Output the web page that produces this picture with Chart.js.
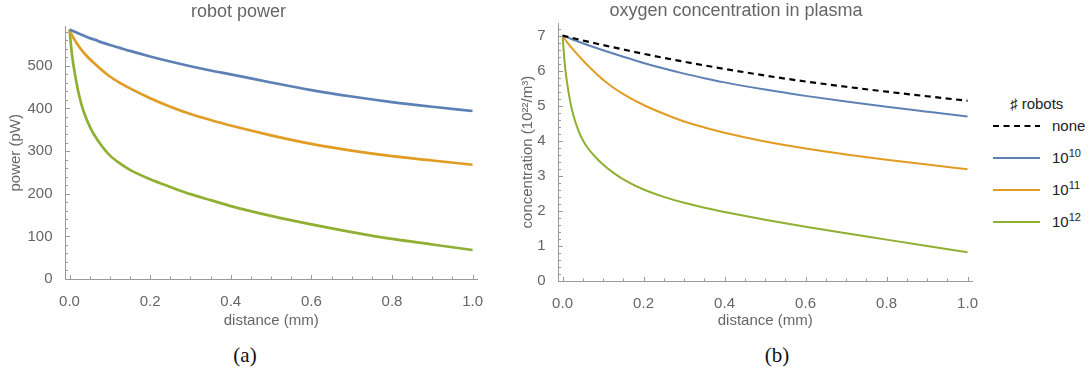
<!DOCTYPE html>
<html lang="en">
  <head>
    <meta charset="UTF-8" />
    <title>Robot power and oxygen concentration</title>
    <script src="https://cdn.jsdelivr.net/npm/chart.js"></script>
    <style>
      body {
        margin: 0;
        width: 1091px;
        height: 375px;
        background: #fff;
        position: relative;
        overflow: hidden;
        font-family: "Liberation Sans", Arial, sans-serif;
      }
      #powerChart { position: absolute; left: 0; top: 0; }
      #oxygenChart { position: absolute; left: 500px; top: 0; }
      .caption {
        position: absolute;
        top: 342px;
        line-height: 26px;
        font-family: "Liberation Serif", serif;
        font-size: 21px;
        color: #111;
        transform: translateX(-50%);
      }
      #legend { position: absolute; left: 0; top: 0; font-size: 15px; color: #222; }
      .row { position: absolute; height: 18px; line-height: 18px; white-space: nowrap; }
      .row sup { font-size: 11px; vertical-align: 6px; line-height: 0; }
      .row svg { position: absolute; left: 0; top: 0; }
    </style>
  </head>
  <body>
    <canvas id="powerChart" width="500" height="335"></canvas>
    <canvas id="oxygenChart" width="485" height="335"></canvas>

    <div id="legend">
      <div class="row" style="left:1010px; top:95px;">&#9839; robots</div>
      <div class="row" style="left:993px; top:117px; width:98px;">
        <svg width="50" height="18"><line x1="0" y1="9" x2="47" y2="9" stroke="#000" stroke-width="2" stroke-dasharray="6,4.5" /></svg>
        <span style="position:absolute; left:59px;">none</span>
      </div>
      <div class="row" style="left:993px; top:149px; width:98px;">
        <svg width="50" height="18"><line x1="0" y1="9" x2="47" y2="9" stroke="#5e81b5" stroke-width="2" /></svg>
        <span style="position:absolute; left:59px;">10<sup>10</sup></span>
      </div>
      <div class="row" style="left:993px; top:181px; width:98px;">
        <svg width="50" height="18"><line x1="0" y1="9" x2="47" y2="9" stroke="#e19c24" stroke-width="2" /></svg>
        <span style="position:absolute; left:59px;">10<sup>11</sup></span>
      </div>
      <div class="row" style="left:993px; top:213px; width:98px;">
        <svg width="50" height="18"><line x1="0" y1="9" x2="47" y2="9" stroke="#8fb032" stroke-width="2" /></svg>
        <span style="position:absolute; left:59px;">10<sup>12</sup></span>
      </div>
    </div>

    <div class="caption" style="left:245px;">(a)</div>
    <div class="caption" style="left:777px;">(b)</div>

    <script>
      // distance along the vessel (mm), shared by every curve
      var distance = [0, 0.005, 0.01, 0.02, 0.03, 0.04, 0.05, 0.06, 0.08, 0.1, 0.125, 0.15,
        0.2, 0.25, 0.3, 0.35, 0.4, 0.5, 0.6, 0.7, 0.8, 0.9, 1.0];

      // (a) robot power in pW
      var power1e10 = [585, 583, 581, 577, 573, 569, 565, 562, 555, 549, 542, 535,
        522, 510, 499, 489, 480, 461, 443, 428, 415, 404, 394];
      var power1e11 = [585, 574, 565, 550, 537, 526, 516, 507, 490, 475, 460, 447,
        424, 404, 387, 373, 360, 337, 317, 301, 288, 278, 268];
      var power1e12 = [585, 535, 500, 447, 408, 380, 358, 340, 312, 290, 271, 256,
        234, 216, 199, 185, 171, 148, 128, 110, 94, 81, 68];

      // (b) oxygen concentration in 10^22 / m^3
      var oxygenNone = [7.0, 6.986, 6.972, 6.944, 6.916, 6.888, 6.86, 6.833, 6.78, 6.728, 6.665, 6.603,
        6.48, 6.365, 6.255, 6.15, 6.05, 5.86, 5.69, 5.54, 5.4, 5.27, 5.14];
      var oxygen1e10 = [7.0, 6.977, 6.955, 6.91, 6.866, 6.823, 6.781, 6.74, 6.66, 6.582, 6.487, 6.395,
        6.22, 6.06, 5.915, 5.785, 5.665, 5.46, 5.28, 5.12, 4.97, 4.83, 4.69];
      var oxygen1e11 = [7.0, 6.91, 6.83, 6.685, 6.55, 6.42, 6.295, 6.175, 5.95, 5.74, 5.52, 5.33,
        5.02, 4.77, 4.55, 4.38, 4.23, 3.98, 3.78, 3.61, 3.46, 3.32, 3.19];
      var oxygen1e12 = [7.0, 6.25, 5.75, 5.05, 4.6, 4.27, 4.02, 3.83, 3.55, 3.32, 3.09, 2.9,
        2.61, 2.4, 2.23, 2.09, 1.97, 1.75, 1.55, 1.36, 1.18, 1.0, 0.82];

      // labelled ticks
      var distanceTicks = [0, 0.2, 0.4, 0.6, 0.8, 1.0];
      var powerTicks = [0, 100, 200, 300, 400, 500];
      var oxygenTicks = [0, 1, 2, 3, 4, 5, 6, 7];

      var blue = "#5e81b5", orange = "#e19c24", green = "#8fb032";
      var axisGrey = "#9a9a9a", labelGrey = "#666";

      Chart.defaults.font.family = '"Liberation Sans", Arial, sans-serif';
      Chart.defaults.font.size = 15;
      Chart.defaults.color = labelGrey;

      function points(values) {
        return distance.map(function (d, i) {
          return { x: d, y: values[i] };
        });
      }

      function curve(label, values, color, width, dash) {
        return {
          label: label,
          data: points(values),
          borderColor: color,
          backgroundColor: color,
          borderWidth: width,
          borderDash: dash || [],
          pointRadius: 0,
          cubicInterpolationMode: "monotone",
          fill: false,
        };
      }

      // Mathematica style ticks that point into the plot
      var insideTicks = {
        id: "insideTicks",
        afterDatasetsDraw: function (chart, args, opts) {
          var ctx = chart.ctx, area = chart.chartArea;
          var xs = chart.scales.x, ys = chart.scales.y;
          ctx.save();
          ctx.strokeStyle = axisGrey;
          ctx.lineWidth = 1;
          ctx.beginPath();
          var nx = Math.round(1 / opts.xStep);
          var xEvery = Math.round(opts.xMajor / opts.xStep);
          for (var i = 0; i <= nx; i++) {
            var px = Math.round(xs.getPixelForValue(i * opts.xStep)) + 0.5;
            var len = i % xEvery === 0 ? 4 : 2.5;
            ctx.moveTo(px, area.bottom);
            ctx.lineTo(px, area.bottom - len);
          }
          var ny = Math.floor(ys.max / opts.yStep + 1e-9);
          var yEvery = Math.round(opts.yMajor / opts.yStep);
          for (var j = 0; j <= ny; j++) {
            var py = Math.round(ys.getPixelForValue(j * opts.yStep)) + 0.5;
            var ylen = j % yEvery === 0 ? 4.5 : 2.5;
            ctx.moveTo(area.left, py);
            ctx.lineTo(area.left + ylen, py);
          }
          ctx.stroke();
          ctx.restore();
        },
      };

      function axes(yMax, yTicks, yTitle, yWidth, yTitlePad, xHeight) {
        return {
          x: {
            type: "linear",
            min: -0.01,
            max: 1.011,
            afterBuildTicks: function (s) {
              s.ticks = distanceTicks.map(function (v) { return { value: v }; });
            },
            afterFit: function (s) { s.height = xHeight; },
            ticks: {
              padding: 6,
              color: labelGrey,
              callback: function (v) { return Number(v).toFixed(1); },
            },
            grid: { display: false },
            border: { display: true, color: axisGrey, width: 1 },
            title: {
              display: true,
              text: "distance (mm)",
              color: labelGrey,
              font: { size: 15 },
              padding: { top: 0, bottom: 5 },
            },
          },
          y: {
            type: "linear",
            min: 0,
            max: yMax,
            afterBuildTicks: function (s) {
              s.ticks = yTicks.map(function (v) { return { value: v }; });
            },
            afterFit: function (s) { s.width = yWidth; },
            ticks: {
              padding: 5,
              color: labelGrey,
              callback: function (v) { return String(v); },
            },
            grid: { display: false },
            border: { display: true, color: axisGrey, width: 1 },
            title: {
              display: true,
              text: yTitle,
              color: labelGrey,
              font: { size: 15 },
              padding: { top: yTitlePad, bottom: 0 },
            },
          },
        };
      }

      new Chart(document.getElementById("powerChart"), {
        type: "line",
        data: {
          datasets: [
            curve("10^10", power1e10, blue, 2.7),
            curve("10^11", power1e11, orange, 2.7),
            curve("10^12", power1e12, green, 2.7),
          ],
        },
        plugins: [insideTicks],
        options: {
          responsive: false,
          animation: false,
          layout: { padding: { left: 0, right: 23, top: 0, bottom: 0 } },
          scales: axes(592, powerTicks, "power (pW)", 65.5, 7, 56),
          plugins: {
            legend: { display: false },
            tooltip: { enabled: false },
            title: {
              display: true,
              text: "robot power",
              color: labelGrey,
              font: { size: 18, weight: "normal" },
              padding: { top: 1, bottom: 4 },
            },
            insideTicks: { xStep: 0.05, xMajor: 0.2, yStep: 20, yMajor: 100 },
          },
        },
      });

      new Chart(document.getElementById("oxygenChart"), {
        type: "line",
        data: {
          datasets: [
            curve("none", oxygenNone, "#000", 2.2, [6, 4.5]),
            curve("10^10", oxygen1e10, blue, 2),
            curve("10^11", oxygen1e11, orange, 2),
            curve("10^12", oxygen1e12, green, 2),
          ],
        },
        plugins: [insideTicks],
        options: {
          responsive: false,
          animation: false,
          layout: { padding: { left: 0, right: 13, top: 0, bottom: 0 } },
          scales: axes(7.35, oxygenTicks, "concentration (10\u00b2\u00b2/m\u00b3)", 58.5, 19, 54),
          plugins: {
            legend: { display: false },
            tooltip: { enabled: false },
            title: {
              display: true,
              text: "oxygen concentration in plasma",
              color: labelGrey,
              font: { size: 18, weight: "normal" },
              padding: { top: 0, bottom: 1.7 },
            },
            insideTicks: { xStep: 0.05, xMajor: 0.2, yStep: 0.2, yMajor: 1 },
          },
        },
      });
    </script>
  </body>
</html>
